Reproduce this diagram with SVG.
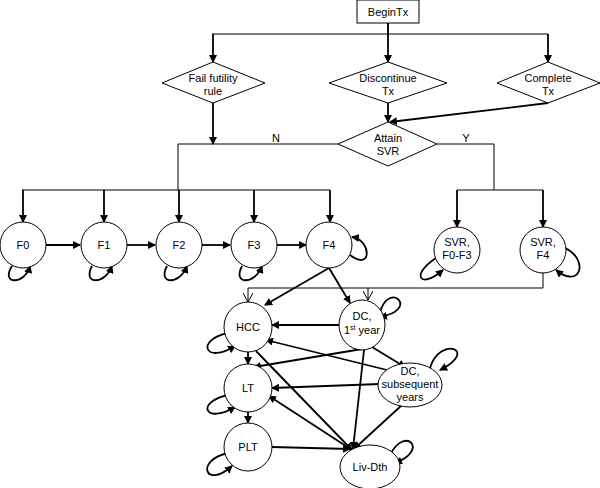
<svg xmlns="http://www.w3.org/2000/svg" width="600" height="488" viewBox="0 0 600 488">
<defs>
<marker id="a" markerWidth="8" markerHeight="8" refX="7" refY="4" orient="auto" markerUnits="userSpaceOnUse"><path d="M0,0 L8,4 L0,8 Z" fill="#000"/></marker>
<marker id="o" markerWidth="10" markerHeight="10" refX="9" refY="5" orient="auto" markerUnits="userSpaceOnUse"><path d="M0,0 L9,5 L0,10" fill="none" stroke="#000"/></marker>
</defs>
<style>
.n{fill:#fff;stroke:#000;stroke-width:1}
.t{font-family:"Liberation Sans",Arial,sans-serif;font-size:11px;text-anchor:middle;fill:#000}
.l{fill:none;stroke:#000;stroke-width:1}
.e{fill:none;stroke:#000;stroke-width:1.8;marker-end:url(#a)}
</style>
<rect width="600" height="488" fill="#fff"/>
<g id="connectors">
<path class="l" d="M388,23 V34 M212,34 H548"/>
<path class="e" d="M388,23 V62"/>
<path class="e" d="M213,34 V62"/>
<path class="e" d="M548,34 V62"/>
<path class="e" d="M388,103 V122"/>
<path class="e" d="M548,103 L390,122"/>
<path class="e" d="M213,103 V144"/>
<path class="l" d="M338,144 H178 V190 M22,190 H330 M437,144 H494 V190 M457,190 H543"/>
<path class="e" d="M23,190 V222"/>
<path class="e" d="M104,190 V222"/>
<path class="e" d="M179,190 V222"/>
<path class="e" d="M254,190 V222"/>
<path class="e" d="M330,190 V222"/>
<path class="e" d="M457,190 V227"/>
<path class="e" d="M543,190 V227"/>
<path class="e" d="M46,245 H80"/>
<path class="e" d="M127,245 H155"/>
<path class="e" d="M202,245 H230"/>
<path class="e" d="M277,245 H306"/>
<path class="l" d="M543,273 V288 H248"/>
<path class="l" d="M248,288 V302" marker-end="url(#o)"/>
<path class="l" d="M368,288 V300" marker-end="url(#o)"/>
<path class="e" d="M329,268 L265,305"/>
<path class="e" d="M329,268 L350,303"/>
<path class="e" d="M340,325 L272,325"/>
<path class="e" d="M248,352 V364"/>
<path class="e" d="M368,348 L254,367"/>
<path class="e" d="M372,347 L405,367"/>
<path class="e" d="M387,370 L266,340"/>
<path class="e" d="M256,351 L352,450"/>
<path class="e" d="M352,450 L269,396"/>
<path class="e" d="M380,384 L272,388"/>
<path class="e" d="M364,350 L353,449"/>
<path class="e" d="M402,405 L354,449"/>
<path class="e" d="M272,447 L350,449"/>
<path class="e" d="M248,412 V423"/>
<!-- self loops -->
<path class="e" d="M12,266 C0,285 25,285 30,266"/>
<path class="e" d="M92,266 C82,285 105,285 112,266"/>
<path class="e" d="M167,266 C157,285 180,285 187,266"/>
<path class="e" d="M242,266 C232,285 255,285 262,266"/>
<path class="e" d="M350,255 C372,272 372,240 352,237"/>
<path class="e" d="M436,258 C410,275 420,290 443,270"/>
<path class="e" d="M565,248 C590,260 580,290 556,270"/>
<path class="e" d="M228,333 C195,340 205,365 235,346"/>
<path class="e" d="M228,395 C195,402 205,425 235,407"/>
<path class="e" d="M228,453 C195,460 205,490 232,466"/>
<path class="e" d="M380,312 C390,280 420,310 380,317"/>
<path class="e" d="M430,368 C440,335 480,350 440,370"/>
<path class="e" d="M390,455 C405,425 430,450 395,463"/>
</g>
<g id="begin"><rect class="n" x="357" y="0" width="62" height="23"/><text class="t" x="388" y="16">BeginTx</text></g>
<g id="fail"><polygon class="n" points="162,83 213,62 265,83 213,103"/><text class="t" x="213" y="82">Fail futility</text><text class="t" x="213" y="95">rule</text></g>
<g id="disc"><polygon class="n" points="329,83 388,62 447,83 388,103"/><text class="t" x="388" y="82">Discontinue</text><text class="t" x="388" y="95">Tx</text></g>
<g id="comp"><polygon class="n" points="497,83 548,62 600,83 548,103"/><text class="t" x="548" y="82">Complete</text><text class="t" x="548" y="95">Tx</text></g>
<g id="svr"><polygon class="n" points="338,144 388,122 437,144 388,166"/><text class="t" x="388" y="142">Attain</text><text class="t" x="388" y="155">SVR</text></g>
<text class="t" x="276" y="142">N</text><text class="t" x="466" y="142">Y</text>
<g id="F0"><ellipse class="n" cx="23" cy="245" rx="23" ry="23"/><text class="t" x="23" y="249">F0</text></g>
<g id="F1"><ellipse class="n" cx="104" cy="245" rx="23" ry="23"/><text class="t" x="104" y="249">F1</text></g>
<g id="F2"><ellipse class="n" cx="179" cy="245" rx="23" ry="23"/><text class="t" x="179" y="249">F2</text></g>
<g id="F3"><ellipse class="n" cx="254" cy="245" rx="23" ry="23"/><text class="t" x="254" y="249">F3</text></g>
<g id="F4"><ellipse class="n" cx="329" cy="245" rx="23" ry="23"/><text class="t" x="329" y="249">F4</text></g>
<g id="svr03"><ellipse class="n" cx="457" cy="250" rx="23" ry="23"/><text class="t" x="457" y="246">SVR,</text><text class="t" x="457" y="259">F0-F3</text></g>
<g id="svr4"><ellipse class="n" cx="543" cy="250" rx="23" ry="23"/><text class="t" x="543" y="246">SVR,</text><text class="t" x="543" y="259">F4</text></g>
<g id="hcc"><ellipse class="n" cx="248" cy="327" rx="24" ry="25"/><text class="t" x="248" y="331">HCC</text></g>
<g id="dc1"><ellipse class="n" cx="362" cy="325" rx="23" ry="25"/><text class="t" x="362" y="320">DC,</text><text class="t" x="362" y="334">1<tspan font-size="7" dy="-4">st</tspan><tspan dy="4"> year</tspan></text></g>
<g id="dcs"><ellipse class="n" cx="410" cy="385" rx="32" ry="22"/><text class="t" x="410" y="375">DC,</text><text class="t" x="410" y="388">subsequent</text><text class="t" x="410" y="401">years</text></g>
<g id="lt"><ellipse class="n" cx="248" cy="388" rx="24" ry="24"/><text class="t" x="248" y="392">LT</text></g>
<g id="plt"><ellipse class="n" cx="248" cy="447" rx="24" ry="24"/><text class="t" x="248" y="451">PLT</text></g>
<g id="livdth"><ellipse class="n" cx="370" cy="467" rx="30" ry="22"/><text class="t" x="370" y="471">Liv-Dth</text></g>
</svg>
